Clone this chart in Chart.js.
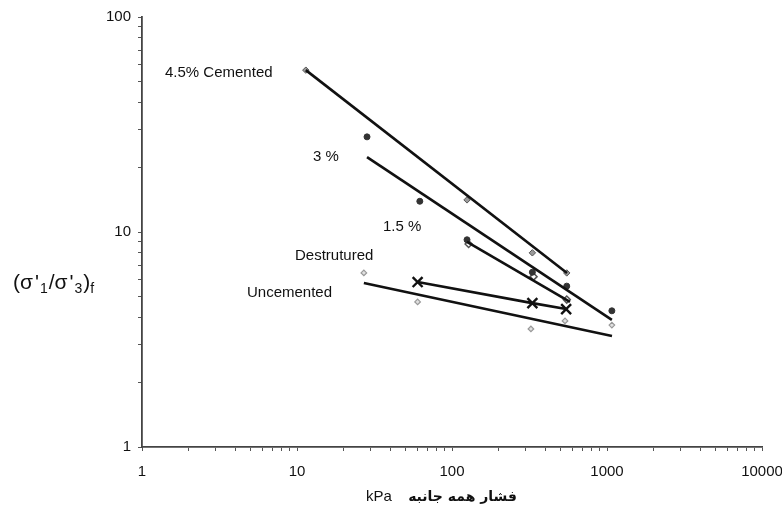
<!DOCTYPE html>
<html>
<head>
<meta charset="utf-8">
<script src="https://cdn.jsdelivr.net/npm/chart.js@4/dist/chart.umd.min.js"></script>
<style>
  html, body { margin: 0; padding: 0; background: #ffffff; }
  #wrap { width: 782px; height: 516px; position: relative; }
</style>
</head>
<body>
<div id="wrap"><canvas id="c" width="782" height="516"></canvas></div>
<script>
// Confining pressure (kPa) and principal stress ratio at failure
const cem45X = [11.4, 125, 330, 550];
const cem45Y = [56.6, 14.1, 8.0, 6.45];
const cem3X = [28.3, 62, 125, 330, 550, 1075];
const cem3Y = [27.7, 13.9, 9.2, 6.5, 5.6, 4.3];
const cem15X = [128, 336, 550];
const cem15Y = [8.8, 6.2, 4.85];
const uncemX = [27, 60, 323, 536, 1075];
const uncemY = [6.45, 4.73, 3.54, 3.86, 3.69];
const destrX = [60, 330, 545];
const destrY = [5.85, 4.67, 4.38];

// Power-law trend lines (end points)
const fit45X = [11.4, 552];
const fit45Y = [56.6, 6.45];
const fit3X = [28.3, 1075];
const fit3Y = [22.3, 3.9];
const fit15X = [125, 577];
const fit15Y = [9.0, 4.73];
const fitUncemX = [27, 1077];
const fitUncemY = [5.79, 3.28];

// Axis ticks
const xDecades = [1, 10, 100, 1000, 10000];
const xTickLabels = ['1', '10', '100', '1000', '10000'];
const yDecades = [1, 10, 100];
const yTickLabels = ['1', '10', '100'];

// Series labels
const seriesLabels = ['4.5% Cemented', '3 %', '1.5 %', 'Destrutured', 'Uncemented'];
const xTitleUnit = 'kPa';
const xTitleText = 'فشار همه جانبه';

function pts(xs, ys) { return xs.map((x, i) => ({ x: x, y: ys[i] })); }

function logTicks(decades) {
  const out = [];
  for (let d = 0; d < decades.length; d++) {
    const base = decades[d];
    if (d === decades.length - 1) { out.push(base); break; }
    for (let m = 1; m <= 9; m++) out.push(base * m);
  }
  return out;
}

const fitLine = { showLine: true, borderColor: '#111', borderWidth: 2.6, pointRadius: 0, fill: false };

const labelPlugin = {
  id: 'labels',
  afterDraw(chart) {
    const ctx = chart.ctx;
    ctx.save();
    ctx.fillStyle = '#111';
    ctx.textBaseline = 'middle';
    ctx.textAlign = 'left';
    ctx.font = '15px "Liberation Sans", Arial, sans-serif';
    ctx.fillText(seriesLabels[0], 165, 73);
    ctx.fillText(seriesLabels[1], 313, 157);
    ctx.fillText(seriesLabels[2], 383, 227);
    ctx.fillText(seriesLabels[3], 295, 256);
    ctx.fillText(seriesLabels[4], 247, 293);

    // x axis title
    ctx.fillText(xTitleUnit, 366, 497);
    ctx.font = 'bold 14px "DejaVu Sans", sans-serif';
    ctx.direction = 'rtl';
    ctx.textAlign = 'right';
    ctx.fillText(xTitleText, 517, 497);
    ctx.direction = 'ltr';
    ctx.textAlign = 'left';

    // y axis title: (σ'1/σ'3)f
    let x = 13;
    const yb = 289;
    ctx.textBaseline = 'alphabetic';
    const big = '21px "Liberation Sans", Arial, sans-serif';
    const small = '14px "Liberation Sans", Arial, sans-serif';
    const parts = [['(', big, 0, 0], ['σ', big, 0, 2], ["'", big, 0, 1], ['1', small, 4, 1],
                   ['/', big, 0, 0], ['σ', big, 0, 2], ["'", big, 0, 1], ['3', small, 4, 1],
                   [')', big, 0, 0], ['f', small, 4, 0]];
    for (const [t, f, dy, gap] of parts) {
      ctx.font = f;
      ctx.fillText(t, x, yb + dy);
      x += ctx.measureText(t).width + gap;
    }
    ctx.restore();
  }
};

new Chart(document.getElementById('c'), {
  type: 'scatter',
  data: {
    datasets: [
      Object.assign({ data: pts(fit45X, fit45Y) }, fitLine),
      Object.assign({ data: pts(fit3X, fit3Y) }, fitLine),
      Object.assign({ data: pts(fit15X, fit15Y) }, fitLine),
      Object.assign({ data: pts(fitUncemX, fitUncemY) }, fitLine),
      { data: pts(destrX, destrY), showLine: true, borderColor: '#111', borderWidth: 2.6,
        pointStyle: 'crossRot', pointRadius: 7, pointBorderWidth: 2.4, pointBorderColor: '#111' },
      { data: pts(cem45X, cem45Y), pointStyle: 'rectRot', pointRadius: 3.2,
        backgroundColor: '#9a9a9a', borderColor: '#555', borderWidth: 1 },
      { data: pts(cem3X, cem3Y), pointStyle: 'circle', pointRadius: 3,
        backgroundColor: '#333', borderColor: '#333', borderWidth: 1 },
      { data: pts(cem15X, cem15Y), pointStyle: 'rectRot', pointRadius: 3.5,
        backgroundColor: '#ffffff', borderColor: '#555', borderWidth: 1.5 },
      { data: pts(uncemX, uncemY), pointStyle: 'rectRot', pointRadius: 2.8,
        backgroundColor: '#e0e0e0', borderColor: '#999', borderWidth: 1.2 }
    ]
  },
  options: {
    responsive: false,
    animation: false,
    layout: { padding: { left: 0, right: 20, top: 17, bottom: 0 } },
    plugins: { legend: { display: false }, tooltip: { enabled: false } },
    scales: {
      x: {
        type: 'logarithmic', min: 1, max: 10000,
        border: { display: true, color: '#444', width: 1.8 },
        grid: { drawOnChartArea: false, drawTicks: true, tickLength: 4, color: '#555', lineWidth: 1 },
        afterBuildTicks(scale) { scale.ticks = logTicks(xDecades).map(v => ({ value: v })); },
        ticks: {
          autoSkip: false, maxRotation: 0, padding: 12, color: '#111',
          font: { family: '"Liberation Sans", Arial, sans-serif', size: 15 },
          callback(value) { const i = xDecades.indexOf(value); return i >= 0 ? xTickLabels[i] : ''; }
        },
        afterFit(scale) { scale.height = 69; scale.paddingLeft = 0; scale.paddingRight = 0; }
      },
      y: {
        type: 'logarithmic', min: 1, max: 100,
        border: { display: true, color: '#444', width: 1.8 },
        grid: { drawOnChartArea: false, drawTicks: true, tickLength: 4, color: '#555', lineWidth: 1 },
        afterBuildTicks(scale) { scale.ticks = logTicks(yDecades).map(v => ({ value: v })); },
        ticks: {
          autoSkip: false, padding: 7, color: '#111',
          font: { family: '"Liberation Sans", Arial, sans-serif', size: 15 },
          callback(value) { const i = yDecades.indexOf(value); return i >= 0 ? yTickLabels[i] : ''; }
        },
        afterFit(scale) { scale.width = 142; scale.paddingTop = 0; scale.paddingBottom = 0; }
      }
    }
  },
  plugins: [labelPlugin]
});
</script>
</body>
</html>
